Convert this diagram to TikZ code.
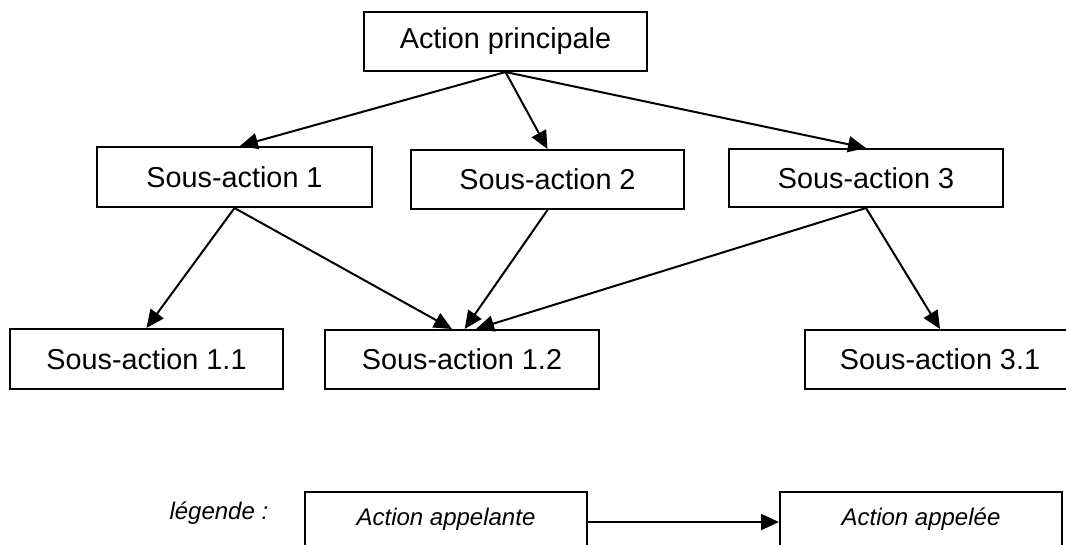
\documentclass[tikz,border=0pt]{standalone}
\usepackage{fontspec}
\setmainfont{Liberation Sans}
\usetikzlibrary{arrows.meta}
\begin{document}
\begin{tikzpicture}[x=0.75pt,y=-0.75pt,
  box/.style={draw, line width=1.5pt, inner sep=0pt, rectangle,
    font=\fontsize{21.6}{26}\selectfont},
  legbox/.style={draw, line width=1.5pt, inner sep=0pt, rectangle,
    minimum width=211.5pt, minimum height=45pt,
    font=\fontsize{18}{22}\selectfont\itshape},
  arr/.style={line width=1.5pt, -{Triangle[length=13.5pt,width=12pt]}}]
\useasboundingbox (0,0) rectangle (1066,544);
\clip (0,0) rectangle (1066,544);

% hierarchy of actions
\node[box, minimum width=212.25pt, minimum height=44.25pt] (ap)  at (505.5,41.5) {Action principale};
\node[box, minimum width=206.25pt, minimum height=45pt]    (s1)  at (234.5,177) {Sous-action 1};
\node[box, minimum width=204.75pt, minimum height=44.25pt] (s2)  at (547.5,179.5) {Sous-action 2};
\node[box, minimum width=205.5pt,  minimum height=43.5pt]  (s3)  at (866,178) {Sous-action 3};
\node[box, minimum width=204.75pt, minimum height=45pt]    (s11) at (146.5,359) {Sous-action 1.1};
\node[box, minimum width=205.5pt,  minimum height=44.25pt] (s12) at (462,359.5) {Sous-action 1.2};
\node[box, minimum width=202.5pt,  minimum height=44.25pt] (s31) at (940,359.5) {Sous-action 3.1};

\draw[arr] (ap.south) -- ([xshift=4pt]s1.north);
\draw[arr] (ap.south) -- (s2.north);
\draw[arr] (ap.south) -- (s3.north);
\draw[arr] (s1.south) -- (s11.north);
\draw[arr] (s1.south) -- ([xshift=-7.5pt]s12.north);
\draw[arr] (s2.south) -- ([xshift=2pt]s12.north);
\draw[arr] (s3.south) -- ([xshift=10.5pt]s12.north);
\draw[arr] (s3.south) -- (s31.north);

% legend
\node[anchor=east, font=\fontsize{18}{22}\selectfont\itshape] (lg) at (273,513) {légende :};
\node[legbox] (la) at (446,522) {\raisebox{8pt}{Action appelante}};
\node[legbox] (le) at (921,522) {\raisebox{8pt}{Action appelée}};
\draw[arr] (la.east) -- (le.west);
\end{tikzpicture}
\end{document}
